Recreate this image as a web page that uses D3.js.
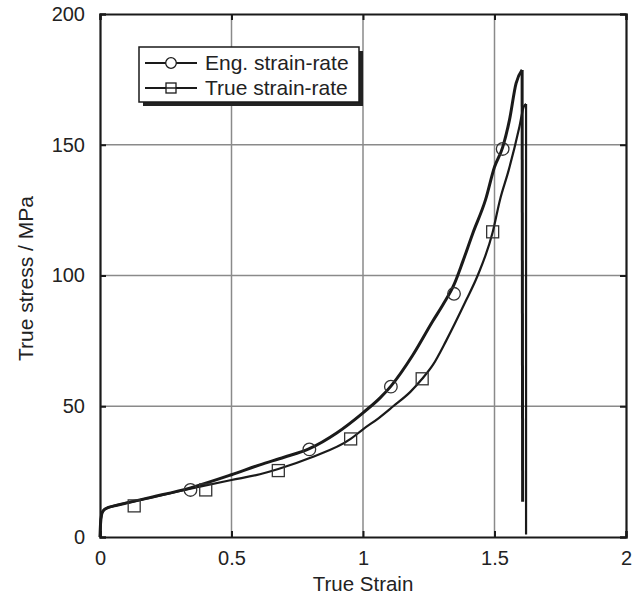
<!DOCTYPE html>
<html>
<head>
<meta charset="utf-8">
<script src="https://cdn.jsdelivr.net/npm/d3@7"></script>
<style>
  html, body { margin: 0; padding: 0; background: #fff; }
  svg text { font-family: "Liberation Sans", Arial, Helvetica, sans-serif; fill: #222; }
</style>
</head>
<body>
<svg id="chart" width="642" height="600"></svg>
<script>
// ---- data ----
const engStrain = [0, 0.002, 0.006, 0.012, 0.025, 0.05, 0.1, 0.2, 0.344, 0.5, 0.608, 0.7, 0.796, 0.9, 1.0, 1.065, 1.107, 1.189, 1.265, 1.305, 1.346, 1.38, 1.417, 1.466, 1.5, 1.531, 1.557, 1.582, 1.605, 1.607];
const engStress = [0, 5, 8.5, 10, 11, 11.8, 13, 15.3, 18.8, 23.8, 27.6, 30.5, 33.8, 39.8, 47.5, 53.2, 57.8, 69.5, 82.5, 89, 96.5, 105.5, 116, 129, 141.5, 149, 159.5, 173.5, 178.6, 13.5];

const trueStrain = [0, 0.002, 0.006, 0.012, 0.025, 0.05, 0.1, 0.2, 0.344, 0.5, 0.608, 0.678, 0.8, 0.953, 1.0, 1.06, 1.115, 1.18, 1.225, 1.267, 1.316, 1.392, 1.436, 1.493, 1.521, 1.554, 1.595, 1.611, 1.62, 1.62];
const trueStress = [0, 5, 8.5, 10, 11, 11.8, 13, 15.2, 18.5, 21.8, 24, 26, 30.3, 37.5, 41.2, 45.5, 50, 55.5, 60.5, 66, 75, 90.5, 100, 116.5, 129, 140.3, 157, 164.5, 165.6, 1];

const engMarkStrain = [0.344, 0.796, 1.106, 1.346, 1.531];
const engMarkStress = [18, 33.5, 57.5, 93, 148.4];
const trueMarkStrain = [0.13, 0.402, 0.678, 0.953, 1.225, 1.493];
const trueMarkStress = [11.9, 18, 25.4, 37.5, 60.5, 116.7];

const xTicks = [0, 0.5, 1, 1.5, 2];
const xTickLabels = ["0", "0.5", "1", "1.5", "2"];
const yTicks = [0, 50, 100, 150, 200];
const yTickLabels = ["0", "50", "100", "150", "200"];

const seriesNames = ["Eng. strain-rate", "True strain-rate"];
const xTitle = "True Strain";
const yTitle = "True stress / MPa";

// ---- layout ----
const svg = d3.select("#chart");
const pL = 100, pR = 626, pT = 14, pB = 537;
const x = d3.scaleLinear().domain([0, 2]).range([pL, pR]);
const y = d3.scaleLinear().domain([0, 200]).range([pB, pT]);

// grid
const grid = svg.append("g");
grid.selectAll("line.gx").data(xTicks.slice(1, -1)).enter().append("line")
  .attr("x1", d => x(d)).attr("x2", d => x(d)).attr("y1", pT).attr("y2", pB)
  .attr("stroke", "#8a8a8a").attr("stroke-width", 1.5);
grid.selectAll("line.gy").data(yTicks.slice(1, -1)).enter().append("line")
  .attr("y1", d => y(d)).attr("y2", d => y(d)).attr("x1", pL).attr("x2", pR)
  .attr("stroke", "#8a8a8a").attr("stroke-width", 1.5);

// axes (ticks inside)
const xAxisB = d3.axisBottom(x).tickValues(xTicks).tickSize(-6).tickFormat((d, i) => xTickLabels[i]).tickPadding(14);
const gxB = svg.append("g").attr("transform", `translate(0,${pB})`).call(xAxisB);
const xAxisT = d3.axisTop(x).tickValues(xTicks).tickSize(-6).tickFormat("");
const gxT = svg.append("g").attr("transform", `translate(0,${pT})`).call(xAxisT);
const yAxisL = d3.axisLeft(y).tickValues(yTicks).tickSize(-6).tickFormat((d, i) => yTickLabels[i]).tickPadding(15);
const gyL = svg.append("g").attr("transform", `translate(${pL},0)`).call(yAxisL);
const yAxisR = d3.axisRight(y).tickValues(yTicks).tickSize(-6).tickFormat("");
const gyR = svg.append("g").attr("transform", `translate(${pR},0)`).call(yAxisR);
[gxB, gxT, gyL, gyR].forEach(g => {
  g.select(".domain").attr("stroke", "#1a1a1a").attr("stroke-width", 2.2);
  g.selectAll(".tick line").attr("stroke", "#1a1a1a").attr("stroke-width", 2);
  g.selectAll(".tick text").attr("font-size", 20).attr("fill", "#222")
    .attr("font-family", '"Liberation Sans", Arial, sans-serif');
});

// titles
svg.append("text").attr("x", (pL + pR) / 2).attr("y", 591).attr("text-anchor", "middle")
  .attr("font-size", 20.5).text(xTitle);
svg.append("text").attr("transform", `translate(33,${(pT + pB) / 2 + 3}) rotate(-90)`)
  .attr("text-anchor", "middle").attr("font-size", 21).text(yTitle);

// lines: smooth rising part, then the straight failure drop
const smooth = d3.line().x(d => x(d[0])).y(d => y(d[1])).curve(d3.curveMonotoneX);
const straight = d3.line().x(d => x(d[0])).y(d => y(d[1]));
const engData = engStrain.map((v, i) => [v, engStress[i]]);
const trueData = trueStrain.map((v, i) => [v, trueStress[i]]);
const engPeak = d3.maxIndex(engStress);
const truePeak = d3.maxIndex(trueStress);

function drawSeries(data, peak, w) {
  svg.append("path").datum(data.slice(0, peak + 1)).attr("d", smooth)
    .attr("fill", "none").attr("stroke", "#1a1a1a").attr("stroke-width", w).attr("stroke-linejoin", "round");
  svg.append("path").datum(data.slice(peak)).attr("d", straight)
    .attr("fill", "none").attr("stroke", "#1a1a1a").attr("stroke-width", w);
}
drawSeries(trueData, truePeak, 2.2);
drawSeries(engData, engPeak, 3);

// markers
svg.selectAll("circle.em").data(engMarkStrain).enter().append("circle")
  .attr("cx", d => x(d)).attr("cy", (d, i) => y(engMarkStress[i])).attr("r", 6.3)
  .attr("fill", "none").attr("stroke", "#333").attr("stroke-width", 1.3);
svg.selectAll("rect.tm").data(trueMarkStrain).enter().append("rect")
  .attr("x", d => x(d) - 6).attr("y", (d, i) => y(trueMarkStress[i]) - 6)
  .attr("width", 12).attr("height", 12)
  .attr("fill", "none").attr("stroke", "#333").attr("stroke-width", 1.3);

// legend
const lg = svg.append("g");
lg.append("rect").attr("x", 143).attr("y", 51).attr("width", 220).attr("height", 55).attr("fill", "#222");
lg.append("rect").attr("x", 139).attr("y", 47).attr("width", 220).attr("height", 55)
  .attr("fill", "#fff").attr("stroke", "#1a1a1a").attr("stroke-width", 1.5);
const ly = [63, 88];
seriesNames.forEach((name, i) => {
  lg.append("line").attr("x1", 145).attr("x2", 197).attr("y1", ly[i]).attr("y2", ly[i])
    .attr("stroke", "#1a1a1a").attr("stroke-width", 2);
  if (i === 0) {
    lg.append("circle").attr("cx", 171).attr("cy", ly[i]).attr("r", 5.3)
      .attr("fill", "#fff").attr("stroke", "#1a1a1a").attr("stroke-width", 1.3);
  } else {
    lg.append("rect").attr("x", 166).attr("y", ly[i] - 5).attr("width", 10).attr("height", 10)
      .attr("fill", "#fff").attr("stroke", "#1a1a1a").attr("stroke-width", 1.3);
    lg.append("line").attr("x1", 166).attr("x2", 176).attr("y1", ly[i]).attr("y2", ly[i])
      .attr("stroke", "#1a1a1a").attr("stroke-width", 1.5);
  }
  lg.append("text").attr("x", 205).attr("y", ly[i] + 7).attr("font-size", 21).text(name);
});
</script>
</body>
</html>
